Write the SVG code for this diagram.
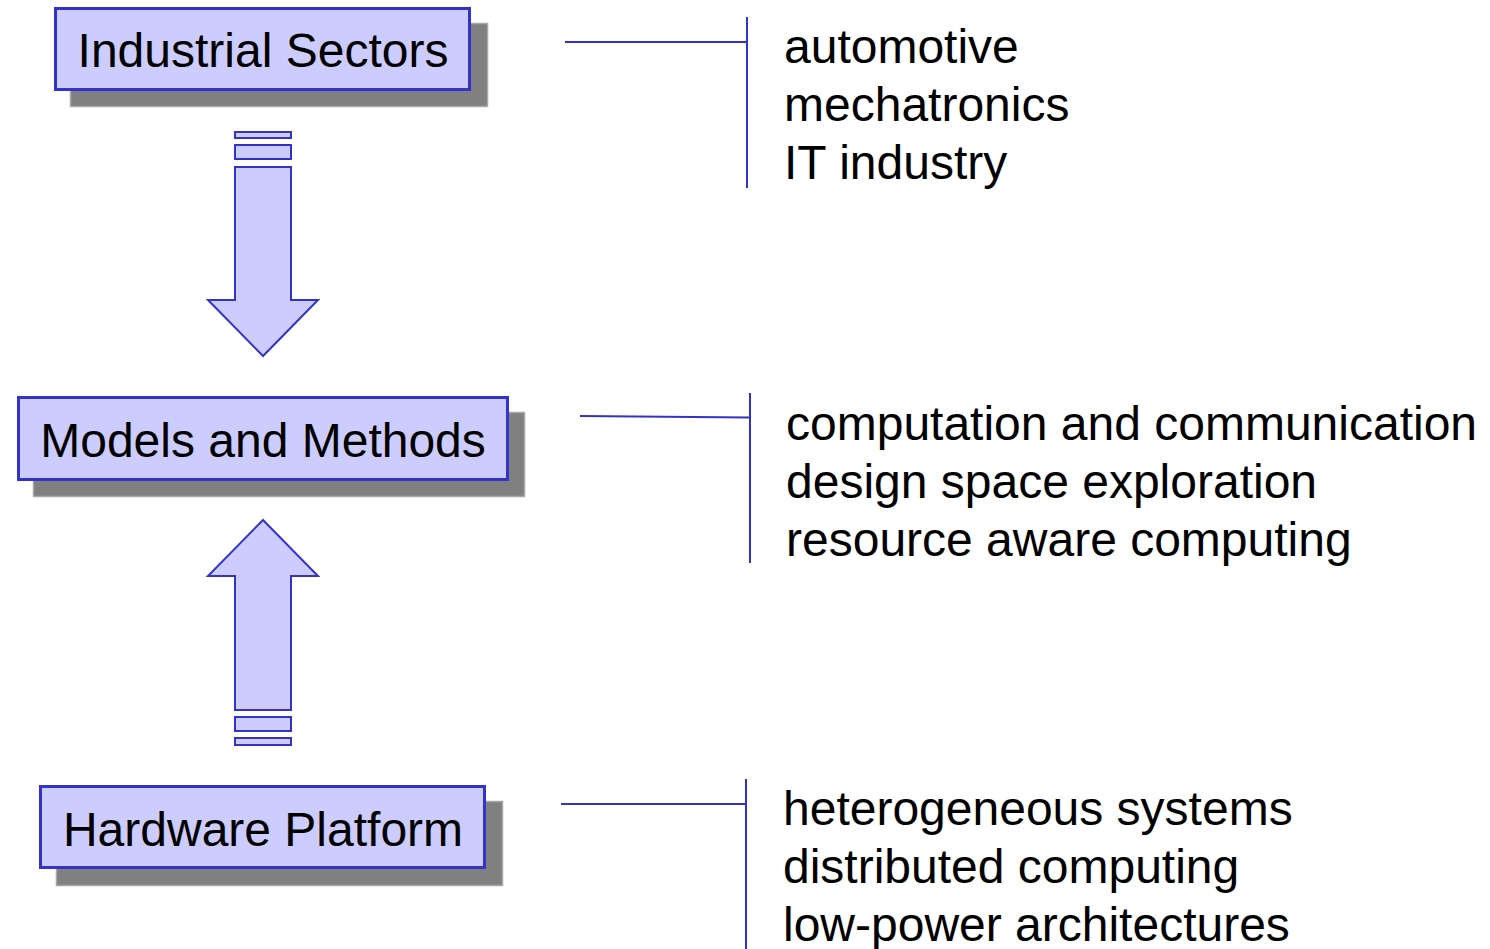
<svg xmlns="http://www.w3.org/2000/svg" width="1490" height="949" viewBox="0 0 1490 949">
  <style>
    .shadow { fill: #808080; stroke: #a8a8a8; stroke-width: 1.5; }
    .box { fill: #ccccff; stroke: #3333cc; stroke-width: 3; }
    .label { font-family: "Liberation Sans", Arial, sans-serif; font-size: 48px; fill: #000000; }
    .arrow { fill: #ccccff; stroke: #3333cc; stroke-width: 2; stroke-linejoin: miter; }
    .conn { fill: none; stroke: #3333cc; stroke-width: 2; }
  </style>
  <rect width="1490" height="949" fill="#ffffff"/>

  <!-- Layer boxes with drop shadows -->
  <g id="industrial-sectors">
    <rect class="shadow" x="70.5" y="23.5" width="417" height="83"/>
    <rect class="box" x="55.5" y="8.5" width="414" height="81"/>
    <text class="label" x="263" y="67" text-anchor="middle">Industrial Sectors</text>
  </g>
  <g id="models-and-methods">
    <rect class="shadow" x="33.5" y="412.5" width="491" height="84"/>
    <rect class="box" x="18.5" y="397.5" width="489" height="82"/>
    <text class="label" x="263" y="457" text-anchor="middle">Models and Methods</text>
  </g>
  <g id="hardware-platform">
    <rect class="shadow" x="56.5" y="801.5" width="446" height="84"/>
    <rect class="box" x="40.5" y="786.5" width="444" height="81"/>
    <text class="label" x="263" y="846" text-anchor="middle">Hardware Platform</text>
  </g>

  <!-- Item lists -->
  <g id="industrial-sectors-items" class="label">
    <text x="784" y="63">automotive</text>
    <text x="784" y="121">mechatronics</text>
    <text x="784" y="179">IT industry</text>
  </g>
  <g id="models-and-methods-items" class="label">
    <text x="786" y="440">computation and communication</text>
    <text x="786" y="498">design space exploration</text>
    <text x="786" y="556">resource aware computing</text>
  </g>
  <g id="hardware-platform-items" class="label">
    <text x="783" y="825">heterogeneous systems</text>
    <text x="783" y="883">distributed computing</text>
    <text x="783" y="941">low-power architectures</text>
  </g>

  <!-- Connectors: block arrows and list brackets -->
  <g id="connectors">
    <g id="arrow-down">
      <rect class="arrow" x="235" y="132" width="56" height="6"/>
      <rect class="arrow" x="235" y="145" width="56" height="14"/>
      <polygon class="arrow" points="235,167 291,167 291,300 318,300 263,356 208,300 235,300"/>
    </g>
    <g id="arrow-up">
      <polygon class="arrow" points="263,520 318,576 291,576 291,710 235,710 235,576 208,576"/>
      <rect class="arrow" x="235" y="717" width="56" height="14"/>
      <rect class="arrow" x="235" y="738" width="56" height="7"/>
    </g>
    <path class="conn" d="M565,42 H747 M747,17 V188"/>
    <path class="conn" d="M580,416 L750,417.5 M750,393 V563"/>
    <path class="conn" d="M561,804 H746 M746,779 V949"/>
  </g>
</svg>
